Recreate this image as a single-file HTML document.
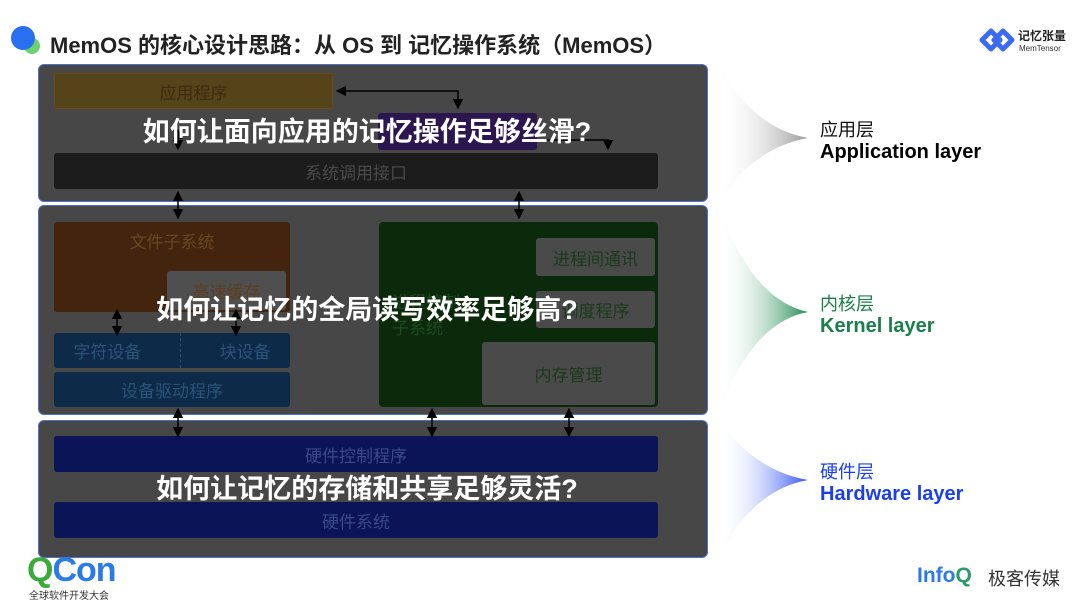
<!DOCTYPE html>
<html><head><meta charset="utf-8"><style>
*{margin:0;padding:0;box-sizing:border-box}
body{width:1080px;height:606px;background:#fff;position:relative;overflow:hidden;font-family:"Liberation Sans","Noto Sans CJK SC",sans-serif}
.a{position:absolute}
.b{position:absolute;display:flex;align-items:center;justify-content:center;border-radius:3px;font-size:17px}
.p{position:absolute;left:38px;width:670px;background:#474747;border:1.5px solid #4a72c8;border-radius:6px}
.q{position:absolute;color:#fff;font-weight:bold;font-size:27px;white-space:nowrap;left:0;width:734px;text-align:center;line-height:32px}
</style></head><body>
<div class="a" style="left:11px;top:26px;width:24px;height:24px;border-radius:50%;background:#2a6ff0"></div>
<div class="a" style="left:24px;top:38px;width:16px;height:16px;border-radius:50%;background:#6cd26c;z-index:-1"></div>
<div class="a" style="left:50px;top:28px;font-size:22px;font-weight:bold;color:#222;white-space:nowrap">MemOS 的核心设计思路：从 OS 到 记忆操作系统（MemOS）</div>
<svg class="a" style="left:978px;top:28px" width="38" height="24"><path d="M4 12 L13 3 L22 12 L13 21 Z M16 12 L25 3 L34 12 L25 21 Z" fill="none" stroke="#3b6cf0" stroke-width="5" stroke-linejoin="round"/></svg>
<div class="a" style="left:1018px;top:27px;font-size:12px;font-weight:bold;color:#222">记忆张量</div>
<div class="a" style="left:1019px;top:44px;font-size:8px;color:#333">MemTensor</div>

<div class="p" style="top:64px;height:138px"></div>
<div class="p" style="top:205px;height:210px"></div>
<div class="p" style="top:420px;height:138px"></div>

<div class="b" style="left:54px;top:73px;width:279px;height:36px;background:#55431a;border:1px solid #6b4a1a;color:#3d2c10">应用程序</div>
<div class="b" style="left:378px;top:113px;width:159px;height:37px;background:#2c1650"></div>
<div class="b" style="left:54px;top:153px;width:604px;height:36px;background:#1c1c1c;color:#4a4a4a">系统调用接口</div>

<div class="b" style="left:54px;top:222px;width:236px;height:90px;background:#43250f;color:#6b4520;align-items:flex-start;padding-top:6px">文件子系统</div>
<div class="b" style="left:167px;top:271px;width:119px;height:39px;background:#4f4f4f;color:#5e3e1e">高速缓存</div>
<div class="b" style="left:54px;top:333px;width:236px;height:35px;background:#0d2a48;color:#2a5478;justify-content:space-around">
<span>字符设备</span><span style="border-left:1px dashed #2a5478;height:100%"></span><span>块设备</span></div>
<div class="b" style="left:54px;top:372px;width:236px;height:35px;background:#0d2a48;color:#2a5478">设备驱动程序</div>
<div class="b" style="left:379px;top:222px;width:279px;height:185px;background:#0b2a0b;border-radius:4px"></div>
<div class="a" style="left:392px;top:290px;font-size:17px;color:#1f4a1f;line-height:26px">进程控制<br>子系统</div>
<div class="b" style="left:536px;top:238px;width:119px;height:38px;background:#4a4a4a;color:#1a3a1a">进程间通讯</div>
<div class="b" style="left:536px;top:291px;width:119px;height:37px;background:#4a4a4a;color:#1a3a1a">调度程序</div>
<div class="b" style="left:482px;top:342px;width:173px;height:63px;background:#4a4a4a;color:#1a3a1a">内存管理</div>

<div class="b" style="left:54px;top:436px;width:604px;height:36px;background:#0a1456;color:#3a4a8a">硬件控制程序</div>
<div class="b" style="left:54px;top:502px;width:604px;height:36px;background:#0a1456;color:#3a4a8a">硬件系统</div>

<svg class="a" style="left:0;top:0" width="1080" height="606">
<defs>
<marker id="m" viewBox="0 0 8 8" refX="7" refY="4" markerWidth="7" markerHeight="7" orient="auto-start-reverse"><path d="M0 0 L8 4 L0 8 Z" fill="#000"/></marker>
<linearGradient id="g1" x1="0" x2="1"><stop offset="0" stop-color="#fff" stop-opacity="0"/><stop offset="1" stop-color="#999"/></linearGradient>
<linearGradient id="g2" x1="0" x2="1"><stop offset="0" stop-color="#fff" stop-opacity="0"/><stop offset="1" stop-color="#1e8a50"/></linearGradient>
<linearGradient id="g3" x1="0" x2="1"><stop offset="0" stop-color="#fff" stop-opacity="0"/><stop offset="1" stop-color="#3050f0"/></linearGradient>
</defs>
<g stroke="#000" stroke-width="1.5" fill="none">
<path d="M458 108 L458 91 L337 91" marker-start="url(#m)" marker-end="url(#m)"/>
<path d="M537 140 L608 140 L608 149" marker-end="url(#m)"/>
<path d="M178 130 L178 149" marker-start="url(#m)" marker-end="url(#m)"/>
<path d="M178 192 L178 218" marker-start="url(#m)" marker-end="url(#m)"/>
<path d="M519 192 L519 218" marker-start="url(#m)" marker-end="url(#m)"/>
<path d="M117 310 L117 335" marker-start="url(#m)" marker-end="url(#m)"/>
<path d="M236 310 L236 335" marker-start="url(#m)" marker-end="url(#m)"/>
<path d="M178 409 L178 436" marker-start="url(#m)" marker-end="url(#m)"/>
<path d="M432 409 L432 436" marker-start="url(#m)" marker-end="url(#m)"/>
<path d="M569 409 L569 436" marker-start="url(#m)" marker-end="url(#m)"/>
</g>
<path d="M718 64 Q752 128 808 138 Q752 148 718 204 Z" fill="url(#g1)"/>
<path d="M718 206 Q752 300 808 312 Q752 322 718 414 Z" fill="url(#g2)"/>
<path d="M718 418 Q752 470 808 480 Q752 490 718 558 Z" fill="url(#g3)"/>
</svg>

<div class="q" style="top:116px">如何让面向应用的记忆操作足够丝滑?</div>
<div class="q" style="top:294px">如何让记忆的全局读写效率足够高?</div>
<div class="q" style="top:473px">如何让记忆的存储和共享足够灵活?</div>

<div class="a" style="left:820px;top:116px;font-size:18px;color:#111">应用层</div>
<div class="a" style="left:820px;top:141px;font-size:20px;font-weight:bold;color:#000">Application layer</div>
<div class="a" style="left:820px;top:290px;font-size:18px;color:#1a8048">内核层</div>
<div class="a" style="left:820px;top:315px;font-size:20px;font-weight:bold;color:#1a8048">Kernel layer</div>
<div class="a" style="left:820px;top:458px;font-size:18px;color:#1a3ef0">硬件层</div>
<div class="a" style="left:820px;top:483px;font-size:20px;font-weight:bold;color:#1a3ef0">Hardware layer</div>

<div class="a" style="left:27px;top:553px;font-size:34px;font-weight:bold;letter-spacing:-1px;line-height:34px"><span style="color:#3aaa3a">Q</span><span style="color:#2a7ae8">Con</span></div>
<div class="a" style="left:29px;top:587px;font-size:10px;color:#333">全球软件开发大会</div>
<div class="a" style="left:917px;top:564px;font-size:21px;font-weight:bold;color:#2a7ae8">Info<span style="color:#2a9a6a">Q</span></div>
<div class="a" style="left:988px;top:565px;font-size:18px;color:#333">极客传媒</div>
</body></html>
